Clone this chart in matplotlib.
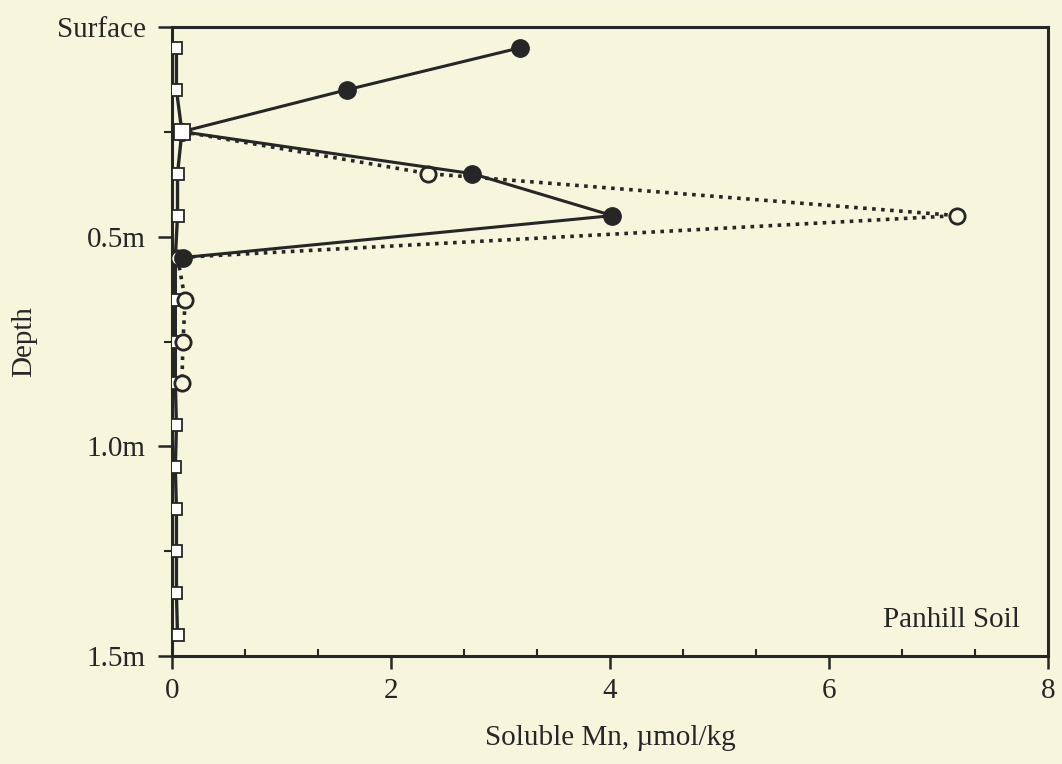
import numpy as np
from matplotlib import pyplot as plt
from matplotlib.ticker import MultipleLocator, FixedLocator

# depth in metres, Mn in umol/kg
depth_filled = [0.05, 0.15, 0.25, 0.35, 0.45, 0.55]
mn_filled = [3.18, 1.60, 0.09, 2.74, 4.02, 0.10]

depth_open = [0.25, 0.35, 0.45, 0.55, 0.65, 0.75, 0.85]
mn_open = [0.09, 2.34, 7.17, 0.05, 0.12, 0.10, 0.09]

depth_sq = [0.05, 0.15, 0.25, 0.35, 0.45, 0.55, 0.65, 0.75, 0.85, 0.95,
            1.05, 1.15, 1.25, 1.35, 1.45]
mn_sq = [0.04, 0.04, 0.09, 0.05, 0.05, 0.03, 0.03, 0.03, 0.03, 0.04,
         0.03, 0.04, 0.04, 0.04, 0.05]

ytick_pos = [0.0, 0.5, 1.0, 1.5]
ytick_lab = ['Surface', '0.5m', '1.0m', '1.5m']
xtick_pos = [0, 2, 4, 6, 8]

bg = '#f8f5dd'
ink = '#262626'
fs = 21

plt.rcParams['font.family'] = ['Liberation Serif', 'DejaVu Serif']

fig = plt.figure(figsize=(10.62, 7.64), dpi=100, facecolor=bg)
ax = fig.add_axes([0.162, 0.141, 0.825, 0.824], facecolor=bg)

ax.plot(mn_sq, depth_sq, '-', color=ink, lw=2.4, marker='s', ms=9,
        mfc='white', mec=ink, mew=1.3, zorder=3)
ax.plot(mn_open, depth_open, color=ink, lw=2.6, ls=(0, (1.0, 1.5)),
        marker='o', ms=11, mfc=bg, mec=ink, mew=2, zorder=4)
ax.plot(mn_filled, depth_filled, '-', color=ink, lw=2.2, marker='o', ms=12.5,
        mfc=ink, mec=ink, zorder=5)
# the big square at 0.25 sits on top
ax.plot([mn_sq[2]], [depth_sq[2]], marker='s', ms=12, mfc='white',
        mec=ink, mew=1.3, ls='none', zorder=6)

ax.set_xlim(0, 8)
ax.set_ylim(1.5, 0)
ax.xaxis.set_major_locator(FixedLocator(xtick_pos))
ax.xaxis.set_minor_locator(MultipleLocator(2 / 3))
ax.yaxis.set_major_locator(FixedLocator(ytick_pos))
ax.yaxis.set_minor_locator(FixedLocator([0.25, 0.75, 1.25]))
ax.set_yticklabels(ytick_lab)
ax.set_xticklabels([str(v) for v in xtick_pos])

for s in ax.spines.values():
    s.set_color(ink)
    s.set_linewidth(2.2)

ax.tick_params(axis='x', which='major', direction='out', length=9,
               width=1.8, color=ink, labelsize=fs, labelcolor=ink, pad=7)
ax.tick_params(axis='y', which='major', direction='out', length=10,
               width=1.8, color=ink, labelsize=fs, labelcolor=ink, pad=9)
ax.tick_params(axis='x', which='minor', direction='in', length=5,
               width=1.5, color=ink)
ax.tick_params(axis='y', which='minor', direction='out', length=6,
               width=1.5, color=ink)

ax.set_xlabel('Soluble Mn, \u00b5mol/kg', fontsize=fs, color=ink, labelpad=15)
ax.set_ylabel('Depth', fontsize=fs, color=ink, labelpad=14)
ax.text(0.968, 0.046, 'Panhill Soil', transform=ax.transAxes, ha='right',
        va='baseline', fontsize=fs, color=ink)

fig.savefig('out.png', dpi=100, facecolor=bg)
